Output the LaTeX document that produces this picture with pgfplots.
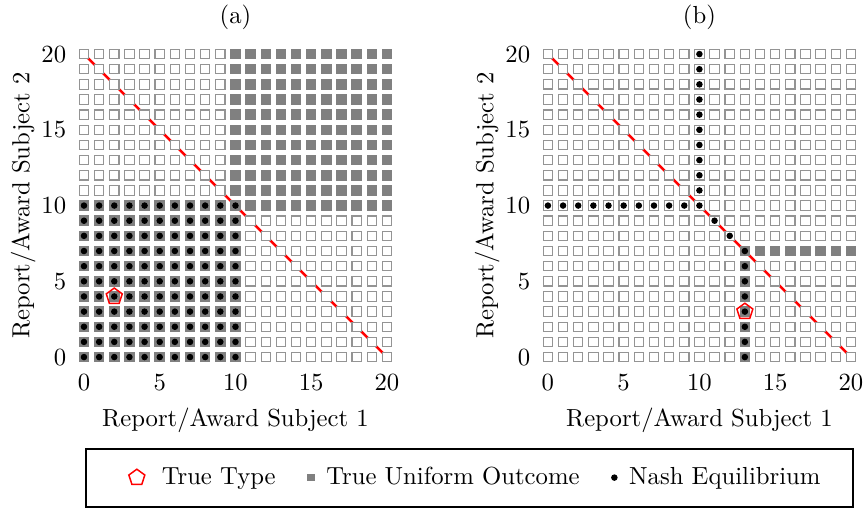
\documentclass[border=0pt]{standalone}
\usepackage{pgfplots}
\usepackage{pgfplotstable}
\pgfplotsset{compat=1.18}

% full 21 x 21 grid of reports
\pgfplotstableread[row sep=\\]{
x y\\
0 0\\1 0\\2 0\\3 0\\4 0\\5 0\\6 0\\7 0\\8 0\\9 0\\10 0\\11 0\\12 0\\13 0\\14 0\\15 0\\16 0\\17 0\\18 0\\19 0\\20 0\\
0 1\\1 1\\2 1\\3 1\\4 1\\5 1\\6 1\\7 1\\8 1\\9 1\\10 1\\11 1\\12 1\\13 1\\14 1\\15 1\\16 1\\17 1\\18 1\\19 1\\20 1\\
0 2\\1 2\\2 2\\3 2\\4 2\\5 2\\6 2\\7 2\\8 2\\9 2\\10 2\\11 2\\12 2\\13 2\\14 2\\15 2\\16 2\\17 2\\18 2\\19 2\\20 2\\
0 3\\1 3\\2 3\\3 3\\4 3\\5 3\\6 3\\7 3\\8 3\\9 3\\10 3\\11 3\\12 3\\13 3\\14 3\\15 3\\16 3\\17 3\\18 3\\19 3\\20 3\\
0 4\\1 4\\2 4\\3 4\\4 4\\5 4\\6 4\\7 4\\8 4\\9 4\\10 4\\11 4\\12 4\\13 4\\14 4\\15 4\\16 4\\17 4\\18 4\\19 4\\20 4\\
0 5\\1 5\\2 5\\3 5\\4 5\\5 5\\6 5\\7 5\\8 5\\9 5\\10 5\\11 5\\12 5\\13 5\\14 5\\15 5\\16 5\\17 5\\18 5\\19 5\\20 5\\
0 6\\1 6\\2 6\\3 6\\4 6\\5 6\\6 6\\7 6\\8 6\\9 6\\10 6\\11 6\\12 6\\13 6\\14 6\\15 6\\16 6\\17 6\\18 6\\19 6\\20 6\\
0 7\\1 7\\2 7\\3 7\\4 7\\5 7\\6 7\\7 7\\8 7\\9 7\\10 7\\11 7\\12 7\\13 7\\14 7\\15 7\\16 7\\17 7\\18 7\\19 7\\20 7\\
0 8\\1 8\\2 8\\3 8\\4 8\\5 8\\6 8\\7 8\\8 8\\9 8\\10 8\\11 8\\12 8\\13 8\\14 8\\15 8\\16 8\\17 8\\18 8\\19 8\\20 8\\
0 9\\1 9\\2 9\\3 9\\4 9\\5 9\\6 9\\7 9\\8 9\\9 9\\10 9\\11 9\\12 9\\13 9\\14 9\\15 9\\16 9\\17 9\\18 9\\19 9\\20 9\\
0 10\\1 10\\2 10\\3 10\\4 10\\5 10\\6 10\\7 10\\8 10\\9 10\\10 10\\11 10\\12 10\\13 10\\14 10\\15 10\\16 10\\17 10\\18 10\\19 10\\20 10\\
0 11\\1 11\\2 11\\3 11\\4 11\\5 11\\6 11\\7 11\\8 11\\9 11\\10 11\\11 11\\12 11\\13 11\\14 11\\15 11\\16 11\\17 11\\18 11\\19 11\\20 11\\
0 12\\1 12\\2 12\\3 12\\4 12\\5 12\\6 12\\7 12\\8 12\\9 12\\10 12\\11 12\\12 12\\13 12\\14 12\\15 12\\16 12\\17 12\\18 12\\19 12\\20 12\\
0 13\\1 13\\2 13\\3 13\\4 13\\5 13\\6 13\\7 13\\8 13\\9 13\\10 13\\11 13\\12 13\\13 13\\14 13\\15 13\\16 13\\17 13\\18 13\\19 13\\20 13\\
0 14\\1 14\\2 14\\3 14\\4 14\\5 14\\6 14\\7 14\\8 14\\9 14\\10 14\\11 14\\12 14\\13 14\\14 14\\15 14\\16 14\\17 14\\18 14\\19 14\\20 14\\
0 15\\1 15\\2 15\\3 15\\4 15\\5 15\\6 15\\7 15\\8 15\\9 15\\10 15\\11 15\\12 15\\13 15\\14 15\\15 15\\16 15\\17 15\\18 15\\19 15\\20 15\\
0 16\\1 16\\2 16\\3 16\\4 16\\5 16\\6 16\\7 16\\8 16\\9 16\\10 16\\11 16\\12 16\\13 16\\14 16\\15 16\\16 16\\17 16\\18 16\\19 16\\20 16\\
0 17\\1 17\\2 17\\3 17\\4 17\\5 17\\6 17\\7 17\\8 17\\9 17\\10 17\\11 17\\12 17\\13 17\\14 17\\15 17\\16 17\\17 17\\18 17\\19 17\\20 17\\
0 18\\1 18\\2 18\\3 18\\4 18\\5 18\\6 18\\7 18\\8 18\\9 18\\10 18\\11 18\\12 18\\13 18\\14 18\\15 18\\16 18\\17 18\\18 18\\19 18\\20 18\\
0 19\\1 19\\2 19\\3 19\\4 19\\5 19\\6 19\\7 19\\8 19\\9 19\\10 19\\11 19\\12 19\\13 19\\14 19\\15 19\\16 19\\17 19\\18 19\\19 19\\20 19\\
0 20\\1 20\\2 20\\3 20\\4 20\\5 20\\6 20\\7 20\\8 20\\9 20\\10 20\\11 20\\12 20\\13 20\\14 20\\15 20\\16 20\\17 20\\18 20\\19 20\\20 20\\
}\gridtab

% panel (a): lower-left block (uniform outcome and equilibria)
\pgfplotstableread[row sep=\\]{
x y\\
0 0\\1 0\\2 0\\3 0\\4 0\\5 0\\6 0\\7 0\\8 0\\9 0\\10 0\\
0 1\\1 1\\2 1\\3 1\\4 1\\5 1\\6 1\\7 1\\8 1\\9 1\\10 1\\
0 2\\1 2\\2 2\\3 2\\4 2\\5 2\\6 2\\7 2\\8 2\\9 2\\10 2\\
0 3\\1 3\\2 3\\3 3\\4 3\\5 3\\6 3\\7 3\\8 3\\9 3\\10 3\\
0 4\\1 4\\2 4\\3 4\\4 4\\5 4\\6 4\\7 4\\8 4\\9 4\\10 4\\
0 5\\1 5\\2 5\\3 5\\4 5\\5 5\\6 5\\7 5\\8 5\\9 5\\10 5\\
0 6\\1 6\\2 6\\3 6\\4 6\\5 6\\6 6\\7 6\\8 6\\9 6\\10 6\\
0 7\\1 7\\2 7\\3 7\\4 7\\5 7\\6 7\\7 7\\8 7\\9 7\\10 7\\
0 8\\1 8\\2 8\\3 8\\4 8\\5 8\\6 8\\7 8\\8 8\\9 8\\10 8\\
0 9\\1 9\\2 9\\3 9\\4 9\\5 9\\6 9\\7 9\\8 9\\9 9\\10 9\\
0 10\\1 10\\2 10\\3 10\\4 10\\5 10\\6 10\\7 10\\8 10\\9 10\\10 10\\
}\lowblock

% panel (a): upper-right block (uniform outcome)
\pgfplotstableread[row sep=\\]{
x y\\
10 10\\11 10\\12 10\\13 10\\14 10\\15 10\\16 10\\17 10\\18 10\\19 10\\20 10\\
10 11\\11 11\\12 11\\13 11\\14 11\\15 11\\16 11\\17 11\\18 11\\19 11\\20 11\\
10 12\\11 12\\12 12\\13 12\\14 12\\15 12\\16 12\\17 12\\18 12\\19 12\\20 12\\
10 13\\11 13\\12 13\\13 13\\14 13\\15 13\\16 13\\17 13\\18 13\\19 13\\20 13\\
10 14\\11 14\\12 14\\13 14\\14 14\\15 14\\16 14\\17 14\\18 14\\19 14\\20 14\\
10 15\\11 15\\12 15\\13 15\\14 15\\15 15\\16 15\\17 15\\18 15\\19 15\\20 15\\
10 16\\11 16\\12 16\\13 16\\14 16\\15 16\\16 16\\17 16\\18 16\\19 16\\20 16\\
10 17\\11 17\\12 17\\13 17\\14 17\\15 17\\16 17\\17 17\\18 17\\19 17\\20 17\\
10 18\\11 18\\12 18\\13 18\\14 18\\15 18\\16 18\\17 18\\18 18\\19 18\\20 18\\
10 19\\11 19\\12 19\\13 19\\14 19\\15 19\\16 19\\17 19\\18 19\\19 19\\20 19\\
10 20\\11 20\\12 20\\13 20\\14 20\\15 20\\16 20\\17 20\\18 20\\19 20\\20 20\\
}\highblock

% panel (b): uniform outcome
\pgfplotstableread[row sep=\\]{
x y\\
13 0\\13 1\\13 2\\13 3\\13 4\\13 5\\13 6\\13 7\\
14 7\\15 7\\16 7\\17 7\\18 7\\19 7\\20 7\\
}\uniformb

% panel (b): Nash equilibria
\pgfplotstableread[row sep=\\]{
x y\\
0 10\\1 10\\2 10\\3 10\\4 10\\5 10\\6 10\\7 10\\8 10\\9 10\\10 10\\
10 11\\10 12\\10 13\\10 14\\10 15\\10 16\\10 17\\10 18\\10 19\\10 20\\
11 9\\12 8\\13 7\\
13 6\\13 5\\13 4\\13 3\\13 2\\13 1\\13 0\\
}\nashb

\pgfplotsset{
  panel/.style={
    x=6.136pt, y=6.136pt,
    xmin=-0.6, xmax=20.6, ymin=-0.6, ymax=20.6,
    axis line style={draw=none},
    major tick length=0pt,
    xtick={0,5,...,20}, ytick={0,5,...,20},
    xlabel={Report/Award Subject 1},
    ylabel={Report/Award Subject 2},
    ylabel shift=-4.5pt,
    title style={yshift=-3.2pt},
    clip=false,
  },
  open sq/.style={only marks, mark=square*, mark size=1.9pt,
    mark options={fill=white, draw=black!42, line width=0.45pt}},
  gray sq/.style={only marks, mark=square*, mark size=1.9pt,
    mark options={fill=black!50, draw=black!50, line width=0.45pt}},
  nash/.style={only marks, mark=*, mark size=1.1pt,
    mark options={fill=black, draw=black}},
  truetype/.style={only marks, mark=pentagon, mark size=3.4pt,
    mark options={draw=red, line width=0.6pt}},
  pent legend/.style={legend image code/.code={\path[draw=none] (-9.4pt,0pt) -- (5.2pt,0pt);
    \draw[##1] plot coordinates {(0pt,0pt)};}},
}

\begin{document}
\begin{tikzpicture}
\begin{axis}[panel, title={(a)},
  legend columns=3,
  legend style={at={(0.0315,-0.347)}, anchor=west, draw=black, line width=0.8pt,
    inner xsep=11.2pt, inner ysep=5.5pt,
    /tikz/every even column/.append style={column sep=11pt},
    /tikz/every odd column/.append style={column sep=2.9pt}},
  legend image code/.code={\draw[#1] plot coordinates {(0pt,0pt)};},
]
\addplot[red, line width=1pt, forget plot] coordinates {(0,20) (20,0)};
\addplot[open sq, forget plot] table[x=x, y=y] {\gridtab};
\addplot[gray sq, forget plot] table[x=x, y=y] {\lowblock};
\addplot[gray sq, forget plot] table[x=x, y=y] {\highblock};
\addplot[nash, forget plot] table[x=x, y=y] {\lowblock};
\addplot[truetype, forget plot] coordinates {(2,4)};
\addlegendimage{pent legend, only marks, mark=pentagon, mark size=3.4pt, mark options={draw=red, line width=0.6pt}}
\addlegendentry{True Type}
\addlegendimage{only marks, mark=square*, mark size=1.3pt, mark options={fill=black!50, draw=black!50, line width=0.4pt}}
\addlegendentry{True Uniform Outcome}
\addlegendimage{only marks, mark=*, mark size=1.1pt, mark options={fill=black, draw=black, line width=0.4pt}}
\addlegendentry{Nash Equilibrium}
\end{axis}
\begin{axis}[panel, title={(b)}, at={(187.9pt,0pt)}]
\addplot[red, line width=1pt] coordinates {(0,20) (20,0)};
\addplot[open sq] table[x=x, y=y] {\gridtab};
\addplot[gray sq] table[x=x, y=y] {\uniformb};
\addplot[nash] table[x=x, y=y] {\nashb};
\addplot[truetype] coordinates {(13,3)};
\end{axis}
\pgfresetboundingbox
\path[use as bounding box] (-30.33pt,-57.5pt) rectangle (319.2pt,148.3pt);
\end{tikzpicture}
\end{document}
